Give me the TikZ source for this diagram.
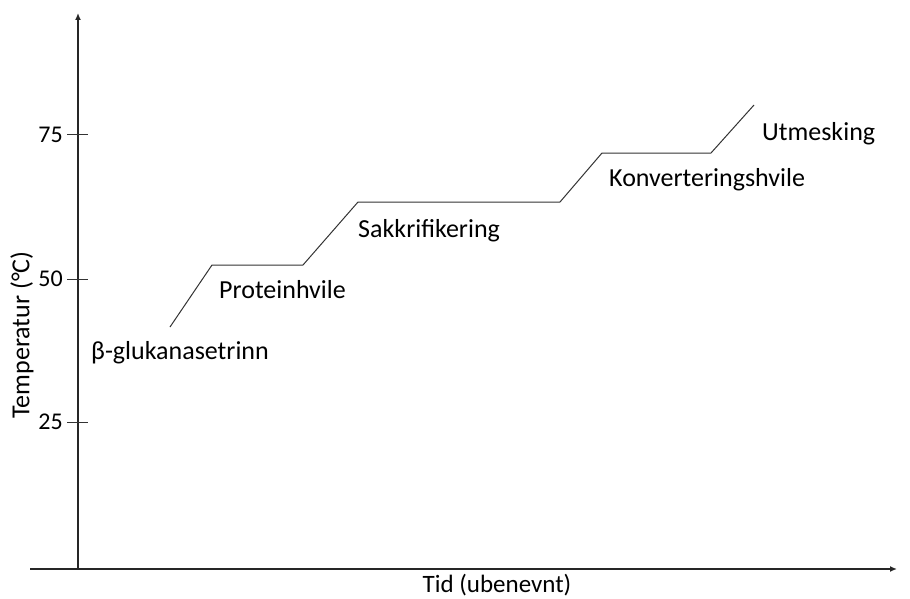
\documentclass[tikz,border=0pt]{standalone}
\usepackage{fontspec}
\setmainfont{Carlito}
\usetikzlibrary{arrows.meta}
\begin{document}
\begin{tikzpicture}[x=1pt,y=-1pt,
  axis/.style={line width=1.7pt,draw=black!85,-{Latex[length=7pt,width=6pt]}},
  tickline/.style={line width=1pt,draw=black!80},
  profile/.style={line width=1pt,draw=black!80},
  lbl/.style={font=\fontsize{26}{30}\selectfont,inner sep=0pt,anchor=west},
  ticklbl/.style={font=\fontsize{24}{28}\selectfont,inner sep=0pt,anchor=east}]
\useasboundingbox (0,0) rectangle (910,599);
% axes
\coordinate (o) at (78,569);
\coordinate (ytop) at (78,13);
\coordinate (xleft) at (30,569);
\coordinate (xright) at (897,569);
\draw[axis] (o) -- (ytop);
\draw[axis] (xleft) -- (xright);
% ticks
\foreach \yy/\lab in {135/75,279/50,422/25}{
  \coordinate (tl\lab) at (67,\yy);
  \coordinate (tr\lab) at (88,\yy);
  \draw[tickline] (tl\lab) -- (tr\lab);
  \node[ticklbl] (t\lab) at (63,\yy) {\lab};
}
% profile
\coordinate (p0) at (170,327);
\coordinate (p1) at (212,265);
\coordinate (p2) at (303,265);
\coordinate (p3) at (358,202);
\coordinate (p4) at (560,202);
\coordinate (p5) at (602,153);
\coordinate (p6) at (711,153);
\coordinate (p7) at (754,105);
\draw[profile] (p0) -- (p1) -- (p2) -- (p3) -- (p4) -- (p5) -- (p6) -- (p7);
% labels
\node[lbl] (s1) at (91,353) {β-glukanasetrinn};
\node[lbl] (s2) at (219,290) {Proteinhvile};
\node[lbl] (s3) at (358,231) {Sakkrifikering};
\node[lbl] (s4) at (609,180) {Konverteringshvile};
\node[lbl] (s5) at (762,134) {Utmesking};
\node[font=\fontsize{25}{29}\selectfont,inner sep=0pt] (xl) at (497,585) {Tid (ubenevnt)};
\node[font=\fontsize{26}{30}\selectfont,inner sep=0pt,rotate=90] (yl) at (22,335) {Temperatur (°C)};
\end{tikzpicture}
\end{document}
